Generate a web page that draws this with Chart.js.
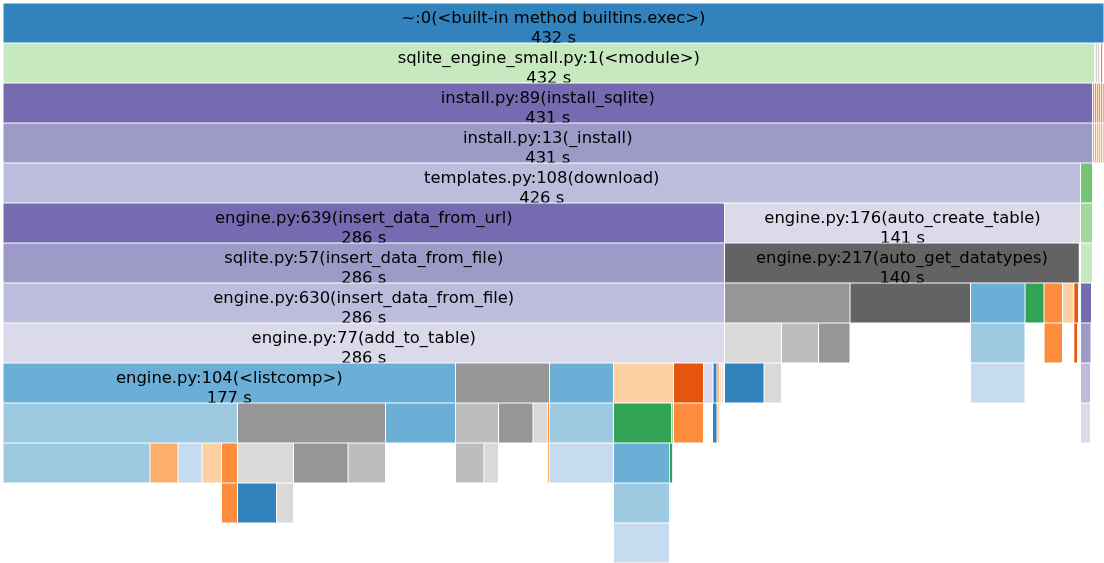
<!DOCTYPE html>
<html><head><meta charset="utf-8">
<script src="https://cdn.jsdelivr.net/npm/chart.js@4"></script>
<style>html,body{margin:0;padding:0;background:#fff;overflow:hidden}canvas{display:block}</style>
</head><body>
<canvas id="c" width="1104" height="563"></canvas>
<script>
// Icicle (snakeviz-style) profile: depth rows, each frame spans [start, end] seconds on the layout axis
const depthLabels = ['0','1','2','3','4','5','6','7','8','9','10','11','12','13'];
const totalSpan = 436.2;

const frameDepth = [
  0,
  1,1,1,1,
  2,2,2,2,2,2,2,
  3,3,3,3,3,3,3,
  4,4,
  5,5,5,
  6,6,6,
  7,7,7,7,7,7,7,7,7,
  8,8,8,8,8,8,8,8,
  9,9,9,9,9,9,9,9,9,9,9,9,9,9,
  10,10,10,10,10,10,10,10,10,10,10,10,10,10,
  11,11,11,11,11,11,11,11,11,11,11,11,11,11,
  12,12,12,12,
  13
];
const frameStart = [
  0,
  0, 432.84, 433.83, 435.02,
  0, 431.66, 432.45, 433.24, 434.04, 434.83, 435.62,
  0, 431.66, 432.45, 433.24, 434.04, 434.83, 435.62,
  0, 426.90,
  0, 285.86, 426.90,
  0, 285.86, 426.90,
  0, 285.86, 335.58, 383.32, 404.91, 412.44, 419.77, 424.25, 426.90,
  0, 285.86, 308.44, 323.10, 383.32, 412.44, 424.25, 426.90,
  0, 179.28, 216.52, 241.88, 265.65, 277.54, 281.30, 282.88, 283.87, 284.67, 285.86, 301.51, 383.32, 426.90,
  0, 92.91, 151.55, 179.28, 196.32, 209.98, 215.73, 216.52, 241.88, 264.86, 265.65, 281.10, 282.88, 426.90,
  0, 58.24, 69.33, 78.84, 86.57, 92.91, 115.10, 136.69, 179.28, 190.57, 215.73, 216.52, 241.88, 264.07,
  86.57, 92.91, 108.36, 241.88,
  241.88
];
const frameEnd = [
  436.2,
  432.45, 433.36, 434.43, 435.62,
  431.66, 432.45, 433.24, 434.04, 434.83, 435.62, 436.2,
  431.66, 432.45, 433.24, 434.04, 434.83, 435.62, 436.2,
  426.90, 431.66,
  285.86, 426.90, 431.66,
  285.86, 426.40, 431.66,
  285.86, 335.58, 383.32, 404.91, 412.44, 419.77, 424.25, 426.11, 431.26,
  285.86, 308.44, 323.10, 335.58, 404.91, 419.77, 425.71, 431.06,
  179.28, 216.52, 241.88, 265.65, 277.54, 281.30, 282.88, 283.87, 284.47, 285.46, 301.51, 308.44, 404.91, 430.86,
  92.91, 151.55, 179.28, 196.32, 209.98, 215.73, 216.52, 241.88, 264.86, 265.45, 277.54, 282.88, 283.87, 430.86,
  58.24, 69.33, 78.84, 86.57, 92.91, 115.10, 136.69, 151.55, 190.57, 196.32, 216.52, 241.88, 264.07, 265.25,
  92.91, 108.36, 115.10, 264.07,
  264.07
];
const frameColor = [
  '#3182bd',
  '#c7e9c0','#969696','#bdbdbd','#e6550d',
  '#756bb1','#fd8d3c','#fd8d3c','#fd8d3c','#fd8d3c','#fd8d3c','#fd8d3c',
  '#9e9ac8','#fdae6b','#fdae6b','#fdae6b','#fdae6b','#fdae6b','#fdae6b',
  '#bcbddc','#74c476',
  '#756bb1','#dadaeb','#a1d99b',
  '#9e9ac8','#636363','#c7e9c0',
  '#bcbddc','#969696','#636363','#6baed6','#31a354','#fd8d3c','#fdd0a2','#e6550d','#756bb1',
  '#dadaeb','#d9d9d9','#bdbdbd','#969696','#9ecae1','#fd8d3c','#e6550d','#9e9ac8',
  '#6baed6','#969696','#6baed6','#fdd0a2','#e6550d','#dadaeb','#3182bd','#fdae6b','#fdd0a2','#dadaeb','#3182bd','#d9d9d9','#c6dbef','#bcbddc',
  '#9ecae1','#969696','#6baed6','#bdbdbd','#969696','#d9d9d9','#fd8d3c','#9ecae1','#31a354','#74c476','#fd8d3c','#3182bd','#fdd0a2','#dadaeb',
  '#9ecae1','#fdae6b','#c6dbef','#fdd0a2','#fd8d3c','#d9d9d9','#969696','#bdbdbd','#bdbdbd','#d9d9d9','#fdae6b','#c6dbef','#6baed6','#31a354',
  '#fd8d3c','#3182bd','#d9d9d9','#9ecae1',
  '#c6dbef'
];

// Frames wide enough to carry a label
const labelFrame = [0, 1, 5, 12, 19, 21, 22, 24, 25, 27, 36, 44];
const labelName = [
  '~:0(<built-in method builtins.exec>)',
  'sqlite_engine_small.py:1(<module>)',
  'install.py:89(install_sqlite)',
  'install.py:13(_install)',
  'templates.py:108(download)',
  'engine.py:639(insert_data_from_url)',
  'engine.py:176(auto_create_table)',
  'sqlite.py:57(insert_data_from_file)',
  'engine.py:217(auto_get_datatypes)',
  'engine.py:630(insert_data_from_file)',
  'engine.py:77(add_to_table)',
  'engine.py:104(<listcomp>)'
];
const labelTime = ['432 s','432 s','431 s','431 s','426 s','286 s','141 s','286 s','140 s','286 s','286 s','177 s'];

const points = frameStart.map((s, i) => ({ x: [s, frameEnd[i]], y: depthLabels[frameDepth[i]] }));

const labelPlugin = {
  id: 'frameLabels',
  afterDatasetsDraw(chart) {
    const meta = chart.getDatasetMeta(0);
    const ctx = chart.ctx;
    ctx.save();
    ctx.font = '16.4px "DejaVu Sans"';
    ctx.fillStyle = '#000';
    ctx.textAlign = 'center';
    ctx.textBaseline = 'alphabetic';
    labelFrame.forEach((fi, k) => {
      const el = meta.data[fi];
      const left = Math.min(el.x, el.base), right = Math.max(el.x, el.base);
      const top = el.y - el.height / 2;
      ctx.save();
      ctx.beginPath();
      ctx.rect(left, top, right - left, el.height - 0.5);
      ctx.clip();
      const cx = (left + right) / 2;
      ctx.fillText(labelName[k], cx, top + 20);
      ctx.fillText(labelTime[k], cx, top + 40.3);
      ctx.restore();
    });
    ctx.restore();
  }
};

new Chart(document.getElementById('c'), {
  type: 'bar',
  data: {
    labels: depthLabels,
    datasets: [{
      data: points,
      backgroundColor: frameColor,
      borderColor: '#ffffff',
      borderWidth: (c) => {
        const r = c.raw;
        if (!r) return 0.5;
        const w = c.chart.scales.x.getPixelForValue(r.x[1]) - c.chart.scales.x.getPixelForValue(r.x[0]);
        return w < 3 ? { left: 0.25, right: 0.25, top: 0.5, bottom: 0.5 } : 0.5;
      },
      borderSkipped: false,
      inflateAmount: 0,
      barPercentage: 1,
      categoryPercentage: 1,
      grouped: false
    }]
  },
  options: {
    indexAxis: 'y',
    responsive: false,
    animation: false,
    layout: { padding: { left: 3, top: 3, right: 0, bottom: 0 } },
    plugins: { legend: { display: false }, tooltip: { enabled: false } },
    scales: {
      x: { type: 'linear', min: 0, max: totalSpan, display: false },
      y: { type: 'category', display: false, offset: true }
    }
  },
  plugins: [labelPlugin]
});
</script>
</body></html>
